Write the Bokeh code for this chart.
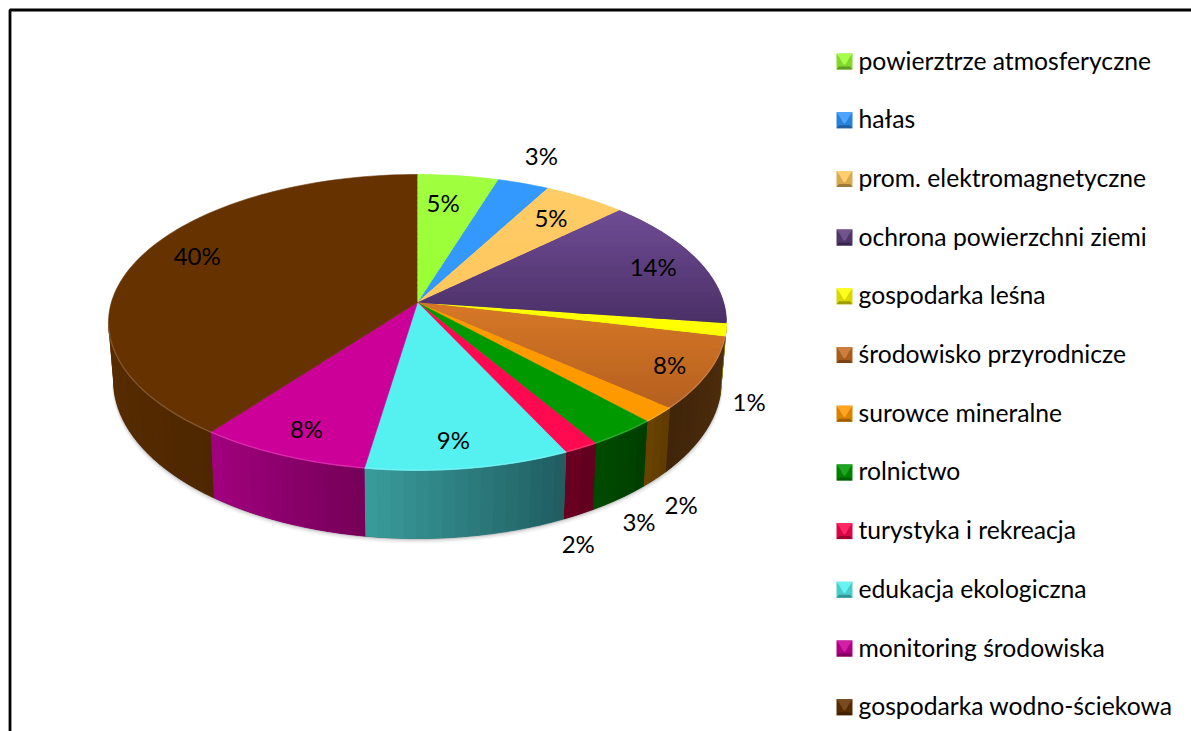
import math
from bokeh.plotting import figure
from bokeh.models import ColumnDataSource, Range1d
from bokeh.core.properties import value
from bokeh.embed import file_html
from bokeh.resources import INLINE

# ---- data ----
categories = ["powierztrze atmosferyczne", "hałas", "prom. elektromagnetyczne",
              "ochrona powierzchni ziemi", "gospodarka leśna", "środowisko przyrodnicze",
              "surowce mineralne", "rolnictwo", "turystyka i rekreacja",
              "edukacja ekologiczna", "monitoring środowiska", "gospodarka wodno-ściekowa"]
shares = [4.8, 3.1, 4.9, 14.4, 1.45, 7.8, 1.7, 3.2, 1.6, 9.4, 7.9, 39.65]
percent_labels = ["%d%%" % int(s + 0.5) for s in shares]

# ---- style ----
top_hi = ["#A0FF40", "#3399FF", "#FFCC66", "#6F4C94", "#FFFF00", "#D67826",
          "#FF9900", "#009900", "#FF0A50", "#55F0F0", "#CC0099", "#663300"]
top_lo = ["#99FF33", "#3399FF", "#FFC75E", "#4A2F66", "#FFFF00", "#B5601F",
          "#FF9900", "#009900", "#FF0A50", "#55F0F0", "#CC0099", "#663300"]
side_left = ["#5C9920", "#1F5C99", "#99793D", "#402A58", "#999900", "#40250A",
             "#6B4300", "#004C00", "#6E0022", "#3A9C9C", "#A30080", "#5A2D00"]
side_right = ["#5C9920", "#1F5C99", "#99793D", "#402A58", "#999900", "#4E2E0C",
              "#5E3B00", "#003D00", "#60001E", "#1F5C60", "#750058", "#4E2700"]
label_offsets = [(-15, 26.5), (18, -27.5), (-34, 19.5), (-44, 6.5), (23, 71.5), (-38, -9.5),
                 (22, 89.5), (16, 88.5), (-3, 95.5), (-15, -28.5), (25, -26.5), (58, -3)]
FONT = "Lato"
FS_LEG = "24.7px"
FS_LAB = "24px"
W, H = 1191, 731
CX, CY, RX, RY, AY = 417, 322, 309, 148, 302
BX, BCY, BRY = 304, 380, 158
Y0 = (AY - CY) / RY
K = math.sqrt(1 - Y0 * Y0)


def rim(theta):
    """Normalised ellipse point of the true pie angle theta (deg, clockwise from top)."""
    t = math.radians(theta)
    u, v = math.sin(t), -math.cos(t)
    d = 1 + Y0 * v
    return u * K / d, (v + Y0) / d


def top_pt(theta):
    X, Y = rim(theta)
    return CX + RX * X, CY + RY * Y


def bot_pt(theta):
    X, Y = rim(theta)
    return CX + BX * X, BCY + BRY * Y


def hexrgb(c):
    return tuple(int(c[i:i + 2], 16) for i in (1, 3, 5))


def mix(a, b, f):
    ca, cb = hexrgb(a), hexrgb(b)
    return "#%02X%02X%02X" % tuple(round(x + (y - x) * f) for x, y in zip(ca, cb))


def clip_band(poly, y0, y1):
    def clip(pts, inside, cross):
        out = []
        for i, p in enumerate(pts):
            q = pts[i - 1]
            if inside(p):
                if not inside(q):
                    out.append(cross(q, p))
                out.append(p)
            elif inside(q):
                out.append(cross(q, p))
        return out

    def crossy(yy):
        return lambda a, b: (a[0] + (b[0] - a[0]) * (yy - a[1]) / (b[1] - a[1]), yy)

    res = clip(poly, lambda p: p[1] >= y0, crossy(y0))
    if res:
        res = clip(res, lambda p: p[1] <= y1, crossy(y1))
    return res


def frange(a, b, n):
    return [a + (b - a) * i / n for i in range(n + 1)]


p = figure(width=W, height=H, output_backend="svg", toolbar_location=None,
           x_range=Range1d(0, W), y_range=Range1d(H, 0),
           x_axis_location=None, y_axis_location=None, min_border=0)
p.grid.visible = False
p.outline_line_color = None
p.background_fill_color = "white"
p.border_fill_color = "white"

# frame, open to the right and the bottom as in the source picture
p.line([9.5, 9.5, W], [H, 9.5, 9.5], line_color="black", line_width=2.8)

# slice angles
edges = [0.0]
for s in shares:
    edges.append(edges[-1] + s * 3.6 * 100 / sum(shares))
front_a = 180 - math.degrees(math.asin(K))
front_b = 360 - front_a

# soft shadow under the pie
for grow, alpha in [(5, 0.05), (3.5, 0.08), (2, 0.12), (1, 0.18)]:
    th = frange(front_a, front_b, 120)
    xs = [bot_pt(t)[0] + grow * 0.3 * math.sin(math.radians(t)) for t in th]
    ys = [bot_pt(t)[1] + grow for t in th]
    p.patch(xs + [CX + BX + 2, CX - BX - 2], ys + [CY, CY], fill_color="#555555",
            fill_alpha=alpha, line_color=None)

# side wall, shaded strip by strip (each strip overlaps the next to hide seams)
sx, sy, sc = [], [], []
for i in range(len(shares)):
    a, b = max(edges[i], front_a), min(edges[i + 1], front_b)
    if a >= b:
        continue
    n = max(1, int((b - a) / 2))
    th = frange(a, b, n)
    whole = [top_pt(t) for t in th] + [bot_pt(t) for t in reversed(th)]
    sx.append([q[0] for q in whole])
    sy.append([q[1] for q in whole])
    sc.append(mix(side_left[i], side_right[i], 0.5))
p.patches("x", "y", source=ColumnDataSource(dict(x=sx, y=sy, c=sc)),
          fill_color="c", line_color="c", line_width=0.8)

sx, sy, sc = [], [], []
for i in range(len(shares)):
    a, b = max(edges[i], front_a), min(edges[i + 1], front_b)
    if a >= b:
        continue
    n = max(1, int((b - a) / 2))
    th = frange(a, b, n)
    for j in range(n):
        t0, t1 = th[j], min(b, th[j + 1] + 0.5)
        P = [top_pt(t0), top_pt(t1), bot_pt(t1), bot_pt(t0)]
        sx.append([q[0] for q in P])
        sy.append([q[1] for q in P])
        # angle grows from right to left along the front of the pie
        sc.append(mix(side_right[i], side_left[i], (j + 0.5) / n))
p.patches("x", "y", source=ColumnDataSource(dict(x=sx, y=sy, c=sc)),
          fill_color="c", line_color=None)

# top face: whole slices first, then a vertical gradient in overlapping bands
wx, wy, wc, tx, ty, tc = [], [], [], [], [], []
for i in range(len(shares)):
    n = max(2, int((edges[i + 1] - edges[i]) / 1.5))
    poly = [(CX, AY)] + [top_pt(t) for t in frange(edges[i], edges[i + 1], n)]
    wx.append([q[0] for q in poly])
    wy.append([q[1] for q in poly])
    wc.append(mix(top_hi[i], top_lo[i], 0.5))
    if top_hi[i] == top_lo[i]:
        continue
    y_min, y_max = min(q[1] for q in poly), max(q[1] for q in poly)
    m = max(2, int((y_max - y_min) / 5))
    ed = frange(y_min, y_max, m)
    for k in range(m):
        part = clip_band(poly, ed[k], min(y_max, ed[k + 1] + 1.0))
        if part:
            tx.append([q[0] for q in part])
            ty.append([q[1] for q in part])
            tc.append(mix(top_hi[i], top_lo[i], (k + 0.5) / m))
p.patches("x", "y", source=ColumnDataSource(dict(x=wx, y=wy, c=wc)),
          fill_color="c", line_color="c", line_width=0.6)
p.patches("x", "y", source=ColumnDataSource(dict(x=tx, y=ty, c=tc)),
          fill_color="c", line_color=None)

# light bevel along the front rim
for i in range(len(shares)):
    a, b = max(edges[i], front_a), min(edges[i + 1], front_b)
    if a >= b:
        continue
    th = frange(a, b, max(2, int((b - a) / 2)))
    pts = [top_pt(t) for t in th]
    p.line([q[0] for q in pts], [q[1] - 0.5 for q in pts],
           line_color=mix(top_lo[i], "#FFFFFF", 0.25), line_width=1.3, line_alpha=0.7)

# percentage labels, placed from each slice's rim midpoint
lx, ly = [], []
for i in range(len(shares)):
    mx, my = top_pt((edges[i] + edges[i + 1]) / 2)
    lx.append(mx + label_offsets[i][0])
    ly.append(my + label_offsets[i][1])
p.text(lx, ly, text=percent_labels, text_font=value(FONT), text_font_size=value(FS_LAB),
       text_align="center", text_baseline="middle", text_color="black")

# legend
LEG_X, LEG_Y, LEG_STEP, SW = 844, 61, 58.7, 16
for i, name in enumerate(categories):
    y = LEG_Y + LEG_STEP * i
    s = SW / 2
    c = top_lo[i] if i != 3 and i != 5 else mix(top_hi[i], top_lo[i], 0.5)
    square = [(LEG_X - s, y - s), (LEG_X + s, y - s), (LEG_X + s, y + s), (LEG_X - s, y + s)]
    p.patch([e[0] for e in square], [e[1] for e in square], fill_color=mix(c, "#000000", 0.15),
            line_color=None)
    p.patch([LEG_X - s, LEG_X + s, LEG_X + s - 3, LEG_X + 1, LEG_X - 1, LEG_X - s + 3],
            [y - s, y - s, y - s + 4, y + 3, y + 3, y - s + 4],
            fill_color=mix(c, "#FFFFFF", 0.12), line_color=None)
    p.patch([LEG_X - s, LEG_X + s, LEG_X + s - 2.5, LEG_X - s + 2.5],
            [y + s, y + s, y + s - 3, y + s - 3],
            fill_color=mix(c, "#000000", 0.38), line_color=None)
p.text([858] * len(categories), [LEG_Y + LEG_STEP * i - 1.5 for i in range(len(categories))], text=categories,
       text_font=value(FONT), text_font_size=value(FS_LEG), text_baseline="middle",
       text_align="left", text_color="black")

open("out.html", "w").write(file_html(p, INLINE))
